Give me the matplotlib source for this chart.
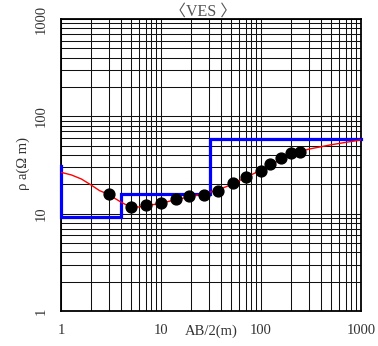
import matplotlib
matplotlib.use("Agg")
import matplotlib.pyplot as plt
from matplotlib.ticker import LogLocator, NullFormatter, FixedLocator, FixedFormatter

# ---- data ----
ab2 = [3, 5, 7, 10, 14, 19, 27, 37, 52, 70, 99, 123, 158, 198, 247]
rho_obs = [16.1, 11.6, 12.4, 13.0, 14.1, 15.2, 15.7, 17.2, 20.5, 23.6, 27.5, 32.4, 37.1, 41.7, 42.8]

curve_x = [1, 1.27, 1.6, 2.0, 2.44, 3.0, 3.44, 4.0, 4.5, 5, 6, 7, 10, 14, 20, 27, 37, 50,
           70, 100, 150, 200, 250, 300, 490, 700, 1000]
curve_rho = [26.6, 25.0, 22.7, 19.7, 17.2, 15.8, 14.4, 13.1, 12.3, 11.8, 11.7, 12.0, 12.8,
             13.9, 15.0, 16.0, 17.5, 19.8, 23.5, 28.0, 35.0, 40.0, 43.5, 46.0, 50.8, 54.0, 57.2]

model_depth = [1, 1, 4, 4, 31, 31, 1000]
model_rho = [31, 9.2, 9.2, 16, 16, 58, 58]

tick_vals = [1, 10, 100, 1000]
tick_labels = ["1", "10", "100", "1000"]

title = "〈VES 〉"
xlabel = "AB/2(m)"
ylabel = "ρ a(Ω m)"

fonts = ["Liberation Serif", "Noto Sans CJK JP", "DejaVu Serif"]
plt.rcParams["font.family"] = fonts

W, H = 378, 346
fig = plt.figure(figsize=(W / 100, H / 100), dpi=100)
ax = fig.add_axes([61 / W, 35 / H, 300 / W, 292 / H])
ax.set_xscale("log")
ax.set_yscale("log")
ax.set_xlim(1, 1000)
ax.set_ylim(1, 1000)

ax.xaxis.set_major_locator(FixedLocator(tick_vals))
ax.xaxis.set_major_formatter(FixedFormatter(tick_labels))
ax.yaxis.set_major_locator(FixedLocator(tick_vals))
ax.yaxis.set_major_formatter(FixedFormatter(tick_labels))
for a in (ax.xaxis, ax.yaxis):
    a.set_minor_locator(LogLocator(base=10, subs=range(2, 10)))
    a.set_minor_formatter(NullFormatter())

ax.grid(which="both", color="#111111", linewidth=0.75)
ax.set_axisbelow(True)
ax.tick_params(which="both", length=0, labelsize=10.5, colors="#333333")
ax.tick_params(axis="x", pad=9.5)
ax.tick_params(axis="y", pad=9.5)
for lab in ax.get_yticklabels():
    lab.set_rotation(90)
    lab.set_va("center")

for s in ax.spines.values():
    s.set_linewidth(1.3)
    s.set_color("black")

ax.plot(model_depth, model_rho, color="#0000ff", linewidth=2.3, zorder=3, clip_on=False,
        solid_joinstyle="miter")
ax.plot(curve_x, curve_rho, color="#ff0000", linewidth=1.0, zorder=4)
ax.plot(ab2, rho_obs, linestyle="none", marker="o", markersize=7.8, color="black", zorder=5)

fig.text(203 / W, 1 - 12 / H, title, ha="center", va="center", fontsize=11.5, color="#555555")
fig.text(211 / W, 1 - 331 / H, xlabel, ha="center", va="center", fontsize=10.5, color="#333333")
fig.text(23 / W, 1 - 163 / H, ylabel, ha="center", va="center", fontsize=10.5, rotation=90,
         color="#333333")

fig.savefig("out.png", dpi=100)
